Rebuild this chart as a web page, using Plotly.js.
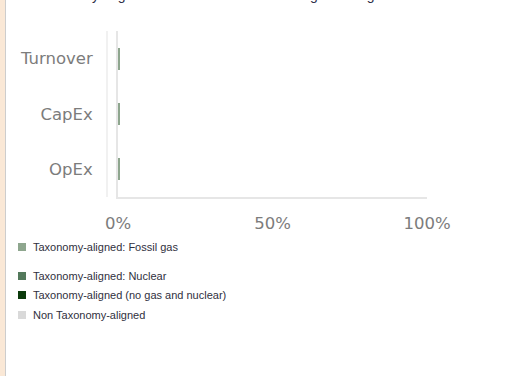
<!DOCTYPE html>
<html>
<head>
<meta charset="utf-8">
<script src="https://cdn.plot.ly/plotly-3.0.1.min.js"></script>
<style>
  html, body { margin: 0; padding: 0; width: 514px; height: 376px; overflow: hidden; background: #ffffff; }
  #chart { position: absolute; left: 0; top: 0; width: 514px; height: 376px; }
  #strip { position: absolute; left: 0; top: 0; width: 5px; height: 376px; background: #fae8d6; z-index: 5; }
  #stripline { position: absolute; left: 5px; top: 0; width: 1px; height: 376px; background: #cdcdcd; z-index: 5; }
  #toptext { position: absolute; left: 20px; top: -13px; font-family: "Liberation Sans", Arial, sans-serif; font-size: 14px; line-height: 16px; color: #2e2e48; white-space: nowrap; z-index: 4; }
</style>
</head>
<body>
<div id="strip"></div>
<div id="stripline"></div>
<div id="toptext">1. Taxonomy-alignment of investments including sovereign bonds*</div>
<div id="chart"></div>
<script>
// ---- data ----
var categories = ["Turnover", "CapEx", "OpEx"];
var seriesNames = [
  "Taxonomy-aligned: Fossil gas",
  "Taxonomy-aligned: Nuclear",
  "Taxonomy-aligned (no gas and nuclear)",
  "Non Taxonomy-aligned"
];
var fossilGas = [0.7, 0.7, 0.7];
var nuclear = [0, 0, 0];
var alignedOther = [0, 0, 0];
var nonAligned = [0, 0, 0];
var xTickVals = [0, 50, 100];
var xTickText = ["0%", "50%", "100%"];

// ---- styling ----
var colors = ["#8ea68e", "#53795b", "#0b3a0b", "#d9d9d9"];
var W = 514, H = 376;
var ml = 118, mr = 87, mt = 31, mb = 179;
var pw = W - ml - mr, ph = H - mt - mb;
function px(x) { return (x - ml) / pw; }
function py(y) { return 1 - (y - mt) / ph; }

var values = [fossilGas, nuclear, alignedOther, nonAligned];
var traces = values.map(function (v, i) {
  return {
    type: "bar",
    orientation: "h",
    name: seriesNames[i],
    y: categories,
    x: v,
    marker: { color: colors[i], line: { width: 0 } },
    showlegend: false,
    hoverinfo: "name+x"
  };
});

// custom legend (squares + text)
var legendY = [247, 276, 295, 315];
var shapes = [];
var annotations = [];
seriesNames.forEach(function (name, i) {
  shapes.push({
    type: "rect", xref: "paper", yref: "paper",
    x0: px(18), x1: px(26), y0: py(legendY[i] + 4), y1: py(legendY[i] - 4),
    fillcolor: colors[i], line: { width: 0 }, layer: "above"
  });
  annotations.push({
    xref: "paper", yref: "paper", x: px(31), y: py(legendY[i]),
    xanchor: "left", yanchor: "middle", showarrow: false,
    text: name,
    font: { family: "Liberation Sans, Arial, sans-serif", size: 11, color: "#303040" }
  });
});
// secondary light vertical line left of axis
shapes.push({
  type: "line", xref: "paper", yref: "paper",
  x0: px(107), x1: px(107), y0: 0, y1: 1,
  line: { color: "#ededed", width: 1.5 }, layer: "below"
});

var tickFont = { family: "DejaVu Sans, sans-serif", size: 16.5, color: "#7c7c7c" };

var layout = {
  width: W, height: H,
  margin: { l: ml, r: mr, t: mt, b: mb, pad: 0 },
  paper_bgcolor: "rgba(0,0,0,0)",
  plot_bgcolor: "#ffffff",
  barmode: "stack",
  bargap: 0.6,
  showlegend: false,
  font: tickFont,
  xaxis: {
    range: [0, 100],
    tickvals: xTickVals,
    ticktext: xTickText,
    showgrid: false,
    zeroline: false,
    showline: true,
    linecolor: "#e6e6e6",
    linewidth: 2,
    ticks: "",
    ticklabelstandoff: 10,
    tickfont: tickFont,
    fixedrange: true
  },
  yaxis: {
    type: "category",
    categoryorder: "array",
    categoryarray: categories,
    autorange: "reversed",
    showgrid: false,
    zeroline: false,
    showline: true,
    linecolor: "#e6e6e6",
    linewidth: 2,
    ticks: "",
    ticklabelstandoff: 20,
    tickfont: tickFont,
    fixedrange: true
  },
  shapes: shapes,
  annotations: annotations
};

Plotly.newPlot("chart", traces, layout, { displayModeBar: false, staticPlot: true });
</script>
</body>
</html>
